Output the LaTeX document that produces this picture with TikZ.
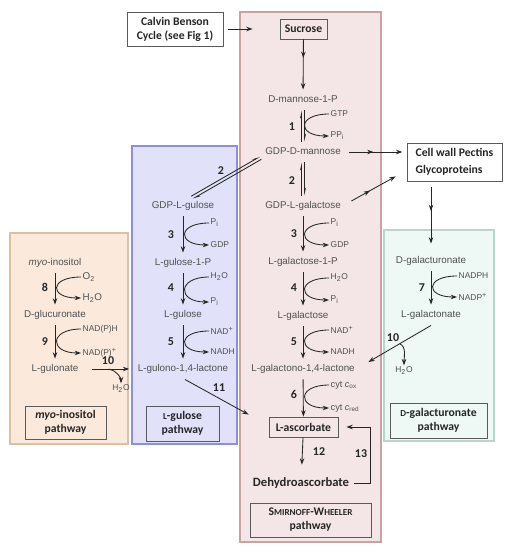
\documentclass[tikz,border=0pt]{standalone}
\usepackage{fontspec}
\setmainfont{Liberation Sans}
\newfontfamily\calib{Carlito}
\usetikzlibrary{arrows.meta,decorations.markings}

\definecolor{swfill}{HTML}{F4E6E6}
\definecolor{swline}{HTML}{C9A3A3}
\definecolor{gufill}{HTML}{E1E1FA}
\definecolor{guline}{HTML}{8E8EDF}
\definecolor{mifill}{HTML}{FBEADC}
\definecolor{miline}{HTML}{DCC0A6}
\definecolor{gafill}{HTML}{EEF8F4}
\definecolor{galine}{HTML}{B8D6C9}
\definecolor{metgray}{HTML}{505050}
\definecolor{boxline}{HTML}{5A5A5A}

% fake small capitals
\newcommand{\fsc}[1]{{\fontsize{6.5}{7}\selectfont\MakeUppercase{#1}}}

\tikzset{
  met/.style={font=\fontsize{7}{8}\selectfont, text=metgray, inner xsep=1pt, inner ysep=4pt, text height=5pt, text depth=1.5pt},
  side/.style={font=\fontsize{6}{7}\selectfont, text=metgray, inner sep=1pt, anchor=west},
  num/.style={font=\calib\bfseries\fontsize{8.5}{9}\selectfont, text=black!85, inner sep=0pt},
  lbl/.style={draw=boxline, line width=0.6pt, font=\calib\bfseries\fontsize{8.3}{10}\selectfont, align=center, inner sep=0pt, text=black!85},
  fwd/.style={line width=0.6pt, draw=black!85, -{Stealth[length=4.5pt,width=3.2pt]}},
  harp/.style={line width=0.6pt, draw=black!85, -{Stealth[left,length=4.5pt,width=2.2pt]}},
  midarrow/.style={postaction={decorate}, decoration={markings, mark=at position #1 with {\arrow{Stealth[length=4.5pt,width=3.2pt]}}}},
  pathbox/.style={line width=0.8pt},
}

\begin{document}
\begin{tikzpicture}[x=0.025cm, y=-0.025cm]
    \useasboundingbox (0,0) rectangle (509,550);

    % Fonds des voies
    \filldraw[fill=mifill, draw=miline, pathbox] (10,233) rectangle (128,444);
    \filldraw[fill=gufill, draw=guline, pathbox] (132,146) rectangle (237,444);
    \filldraw[fill=swfill, draw=swline, pathbox] (240,12) rectangle (381,542);
    \filldraw[fill=gafill, draw=galine, pathbox] (384,230) rectangle (494,441);

    % Boites
    \node[lbl, fill=white, minimum width=2.4cm, minimum height=0.85cm] (calvin) at (175,29) {Calvin Benson\\Cycle (see Fig 1)};
    \node[lbl, minimum width=1.175cm, minimum height=0.5cm] (sucrose) at (303.5,29) {Sucrose};
    \node[lbl, fill=white, minimum width=2.375cm, minimum height=0.95cm, align=left, font=\calib\bfseries\fontsize{8.3}{12}\selectfont] (cellwall) at (454.5,162) {Cell wall Pectins\\Glycoproteins};
    \node[lbl, minimum width=1.725cm, minimum height=0.5cm] (asc) at (303.5,427) {L-ascorbate};
    \node[font=\calib\bfseries\fontsize{9}{10}\selectfont, text=black!85, inner xsep=1pt, inner ysep=4pt] (dha) at (301,483) {Dehydroascorbate};

    \node[lbl, minimum width=2.025cm, minimum height=0.825cm] (mibox) at (65.5,422.5) {\textit{myo}-inositol\\pathway};
    \node[lbl, minimum width=1.825cm, minimum height=0.875cm] (gubox) at (182.5,423.5) {\fsc{l}-gulose\\pathway};
    \node[lbl, minimum width=3.025cm, minimum height=0.85cm] (swbox) at (310.5,520) {S\fsc{mirnoff}-W\fsc{heeler}\\pathway};
    \node[lbl, minimum width=2.425cm, minimum height=0.875cm] (gabox) at (438.5,420.5) {\fsc{d}-galacturonate\\pathway};

    % Voie Smirnoff-Wheeler
    \node[met] (man1p) at (303,100) {D-mannose-1-P};
    \node[met] (gdpman) at (303,152) {GDP-D-mannose};
    \node[met] (gdpgal) at (303,206) {GDP-L-galactose};
    \node[met] (gal1p) at (303,262) {L-galactose-1-P};
    \node[met] (gal) at (303,316) {L-galactose};
    \node[met] (galtone) at (303,369) {L-galactono-1,4-lactone};

    % Voie L-gulose
    \node[met] (gdpgul) at (183,206) {GDP-L-gulose};
    \node[met] (gul1p) at (183,263) {L-gulose-1-P};
    \node[met] (gul) at (183,315) {L-gulose};
    \node[met] (gulono) at (183,369) {L-gulono-1,4-lactone};

    % Voie myo-inositol
    \node[met] (myo) at (55,263) {\textit{myo}-inositol};
    \node[met] (glucur) at (55,315) {D-glucuronate};
    \node[met] (gulnate) at (55,369) {L-gulonate};

    % Voie D-galacturonate
    \node[met] (galur) at (431,261) {D-galacturonate};
    \node[met] (galnate) at (431,315) {L-galactonate};

    % Cofacteurs
    \node[side] (gtp) at (329,114) {GTP};
    \node[side] (ppi) at (329,136) {PP\textsubscript{i}};
    \node[side] (pi3s) at (329,223) {P\textsubscript{i}};
    \node[side] (gdp3s) at (329,245) {GDP};
    \node[side] (h2o4s) at (329,278) {H\textsubscript{2}O};
    \node[side] (pi4s) at (329,300) {P\textsubscript{i}};
    \node[side] (nad5s) at (329,330) {NAD\textsuperscript{+}};
    \node[side] (nadh5s) at (329,352) {NADH};
    \node[side, font=\fontsize{6.5}{7}\selectfont] (cox) at (329,385) {cyt \textit{c}\textsubscript{ox}};
    \node[side, font=\fontsize{6.5}{7}\selectfont] (cred) at (329,408) {cyt \textit{c}\textsubscript{red}};

    \node[side] (pi3g) at (209,223) {P\textsubscript{i}};
    \node[side] (gdp3g) at (209,245) {GDP};
    \node[side] (h2o4g) at (209,277) {H\textsubscript{2}O};
    \node[side] (pi4g) at (209,302) {P\textsubscript{i}};
    \node[side] (nad5g) at (209,331) {NAD\textsuperscript{+}};
    \node[side] (nadh5g) at (209,352) {NADH};

    \node[side, font=\fontsize{7}{8}\selectfont] (o2m) at (81,277) {O\textsubscript{2}};
    \node[side, font=\fontsize{7}{8}\selectfont] (h2om8) at (81,298) {H\textsubscript{2}O};
    \node[side] (nadphm) at (81,329) {NAD(P)H};
    \node[side] (nadpm) at (81,353) {NAD(P)\textsuperscript{+}};

    \node[side] (nadphg) at (457,276) {NADPH};
    \node[side] (nadpg) at (457,297) {NADP\textsuperscript{+}};

    \node[side, anchor=center] (h2om) at (121,389) {H\textsubscript{2}O};
    \node[side, anchor=center] (h2oga) at (404,371) {H\textsubscript{2}O};

    % Numeros des etapes
    \node[num] (n1) at (292,127) {1};
    \node[num] (n2) at (292,181) {2};
    \node[num] (n2d) at (221,171) {2};
    \node[num] (n3s) at (294,234) {3};
    \node[num] (n4s) at (294,288) {4};
    \node[num] (n5s) at (294,342) {5};
    \node[num] (n6) at (294,394) {6};
    \node[num] (n12) at (319,452) {12};
    \node[num] (n13) at (361,454) {13};
    \node[num] (n3g) at (171,235) {3};
    \node[num] (n4g) at (171,288) {4};
    \node[num] (n5g) at (171,342) {5};
    \node[num] (n8) at (45,287) {8};
    \node[num] (n9) at (45,342) {9};
    \node[num] (n10m) at (108,361) {10};
    \node[num] (n11) at (219,388) {11};
    \node[num] (n7) at (422,288) {7};
    \node[num] (n10g) at (393,338) {10};

    % Entrees
    \draw[fwd] ([shift={(5,0)}]calvin.east) -- ([shift={(-27,0)}]sucrose.west);
    \draw[fwd, midarrow=0.37] (sucrose) -- (man1p);

    % Etapes reversibles 1 et 2
    \draw[harp] ([shift={(-1.5,0)}]gdpman.north) -- ([shift={(-1.5,0)}]man1p.south);
    \draw[harp] ([shift={(1.5,0)}]man1p.south) -- ([shift={(1.5,0)}]gdpman.north);
    \draw[harp] ([shift={(-1.5,0)}]gdpgal.north) -- ([shift={(-1.5,0)}]gdpman.south);
    \draw[harp] ([shift={(1.5,0)}]gdpman.south) -- ([shift={(1.5,0)}]gdpgal.north);
    \coordinate (d2a) at ([shift={(-3,6)}]gdpman.west);
    \coordinate (d2b) at ([shift={(9,2)}]gdpgul.north);
    \draw[harp] ([shift={(-0.8,-1.3)}]d2b) -- ([shift={(-0.8,-1.3)}]d2a);
    \draw[harp] ([shift={(0.8,1.3)}]d2a) -- ([shift={(0.8,1.3)}]d2b);

    % Etapes simples
    \draw[fwd] (gdpgal) -- (gal1p);
    \draw[fwd] (gal1p) -- (gal);
    \draw[fwd] (gal) -- (galtone);
    \draw[fwd] (galtone) -- (asc);
    \draw[fwd, shorten >=5pt] (asc) -- (dha);
    \draw[fwd] ([shift={(3,0)}]dha.east) -- ([shift={(20,0)}]dha.east) |- ([shift={(8,0)}]asc.east);

    \draw[fwd] (gdpgul) -- (gul1p);
    \draw[fwd] (gul1p) -- (gul);
    \draw[fwd] (gul) -- (gulono);
    \draw[fwd] ([shift={(2,0)}]gulono.south) -- ([shift={(-20,-2)}]asc.north west);

    \draw[fwd] (myo) -- (glucur);
    \draw[fwd] (glucur) -- (gulnate);
    \draw[fwd] ([shift={(12,0)}]gulnate.east) -- coordinate[pos=0.45] (h10m) ([shift={(-7,0)}]gulono.west);
    \draw[fwd] (h10m) .. controls +(7,1) and +(0,-6) .. (h2om.north);

    \draw[fwd] (galur) -- (galnate);
    \draw[fwd] (galnate.south) -- coordinate[pos=0.5] (h10g) ([shift={(12,-7)}]galtone.east);
    \draw[fwd] (h10g) .. controls +(7,3) and +(0,-8) .. (h2oga.north);

    % Parois cellulaires
    \draw[fwd, midarrow=0.42, shorten >=3pt] ([shift={(7,0)}]gdpman.east) -- (gdpman.east -| cellwall.west);
    \draw[fwd, midarrow=0.42] ([shift={(9,-5)}]gdpgal.east) -- ([shift={(-11,-5)}]cellwall.south west);
    \draw[fwd, midarrow=0.43, shorten <=4pt, shorten >=5pt] (cellwall.south -| galur.north) -- (galur.north);

    % Cofacteurs (courbes)
    \draw[fwd] (gtp.west) .. controls +(-32,0) and +(-32,0) .. (ppi.west);
    \draw[fwd] (pi3s.west) .. controls +(-32,0) and +(-32,0) .. (gdp3s.west);
    \draw[fwd] (h2o4s.west) .. controls +(-32,0) and +(-32,0) .. (pi4s.west);
    \draw[fwd] (nad5s.west) .. controls +(-32,0) and +(-32,0) .. (nadh5s.west);
    \draw[fwd] (cox.west) .. controls +(-32,0) and +(-32,0) .. (cred.west);
    \draw[fwd] (pi3g.west) .. controls +(-32,0) and +(-32,0) .. (gdp3g.west);
    \draw[fwd] (h2o4g.west) .. controls +(-32,0) and +(-32,0) .. (pi4g.west);
    \draw[fwd] (nad5g.west) .. controls +(-32,0) and +(-32,0) .. (nadh5g.west);
    \draw[fwd] (o2m.west) .. controls +(-32,0) and +(-32,0) .. (h2om8.west);
    \draw[fwd] (nadphm.west) .. controls +(-32,0) and +(-32,0) .. (nadpm.west);
    \draw[fwd] (nadphg.west) .. controls +(-32,0) and +(-32,0) .. (nadpg.west);
\end{tikzpicture}
\end{document}
